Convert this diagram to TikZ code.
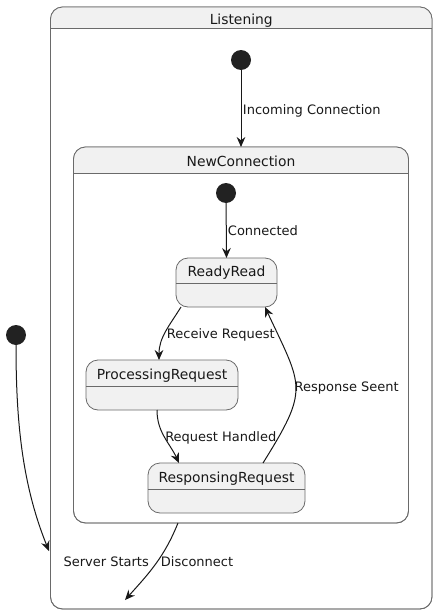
\documentclass[tikz,border=0pt]{standalone}
\usepackage{fontspec}
\setmainfont{DejaVu Sans}
\usetikzlibrary{arrows.meta}
\definecolor{statefill}{HTML}{F1F1F1}
\definecolor{stateline}{HTML}{6A6A6A}
\definecolor{ink}{HTML}{181818}
\definecolor{dot}{HTML}{222222}
\begin{document}
\begin{tikzpicture}[x=0.75pt,y=0.75pt,
  font=\fontsize{9.75}{11.7}\selectfont,
  statebox/.style={draw=stateline, fill=statefill, line width=0.6pt,
    rounded corners=9pt, inner sep=0pt, outer sep=0pt},
  compbox/.style={draw=stateline, line width=0.6pt,
    rounded corners=9pt, inner sep=0pt, outer sep=0pt},
  initdot/.style={circle, fill=dot, minimum size=15pt, inner sep=0pt, outer sep=0pt},
  divider/.style={draw=stateline, line width=0.6pt},
  title/.style={anchor=base, inner sep=0pt, text=ink, font=\fontsize{10.4}{12.5}\selectfont},
  lbl/.style={anchor=base west, inner sep=0pt, text=ink},
  arr/.style={draw=ink, line width=0.75pt,
    -{Stealth[length=7.5pt, width=6.5pt, inset=2.5pt]}}]
\useasboundingbox (0,0) rectangle (438,-614);

% Composite state: Listening
\node[compbox, minimum width=286.1pt, minimum height=451.5pt] (listen) at (241.25,-308) {};
\begin{scope}
  \clip[rounded corners=9pt] (listen.south west) rectangle (listen.north east);
  \fill[statefill] (listen.north west) rectangle (listen.east |- 0,-28);
\end{scope}
\draw[compbox] (listen.south west) rectangle (listen.north east);
\draw[divider] (listen.west |- 0,-28) -- (listen.east |- 0,-28);
\node[title] (tlisten) at (241.25,-24) {Listening};

% Composite state: NewConnection
\node[compbox, minimum width=251.25pt, minimum height=282pt] (nc) at (241,-335) {};
\begin{scope}
  \clip[rounded corners=9pt] (nc.south west) rectangle (nc.north east);
  \fill[statefill] (nc.north west) rectangle (nc.east |- 0,-173);
\end{scope}
\draw[compbox] (nc.south west) rectangle (nc.north east);
\draw[divider] (nc.west |- 0,-173) -- (nc.east |- 0,-173);
\node[title] (tnc) at (241,-166) {NewConnection};

% Simple states
\node[statebox, minimum width=75.75pt, minimum height=36.75pt] (rr) at (226.5,-282.5) {};
\draw[divider] (rr.west |- 0,-283) -- (rr.east |- 0,-283);
\node[title] (trr) at (226.5,-276) {ReadyRead};

\node[statebox, minimum width=114pt, minimum height=37.5pt] (pr) at (162,-385) {};
\draw[divider] (pr.west |- 0,-386) -- (pr.east |- 0,-386);
\node[title] (tpr) at (162,-379) {ProcessingRequest};

\node[statebox, minimum width=117.75pt, minimum height=37.5pt] (rs) at (226.5,-488) {};
\draw[divider] (rs.west |- 0,-489) -- (rs.east |- 0,-489);
\node[title] (trs) at (226.5,-482) {ResponsingRequest};

% Initial pseudo-states
\node[initdot] (i0) at (16,-335) {};
\node[initdot] (i1) at (241,-60) {};
\node[initdot] (i2) at (226,-193) {};

% Free arrow ends
\coordinate (endS) at (49,-551);
\coordinate (endD) at (125,-600);

% Transitions
\draw[arr] (i1) -- (nc.north);
\node[lbl] (lInc) at (242.7,-114) {Incoming Connection};

\draw[arr] (i2) -- (rr.north);
\node[lbl] (lCon) at (227.7,-235.7) {Connected};

\draw[arr] (181,-307) to[out=238, in=90] (159,-360);
\node[lbl] (lRec) at (166.7,-338) {Receive Request};

\draw[arr] (157,-410) to[out=270, in=115] (179,-463);
\node[lbl] (lHan) at (165,-441.7) {Request Handled};

\draw[arr] (263,-463) to[out=58, in=295, looseness=1.45] (265,-307);
\node[lbl] (lSeen) at (294.3,-391) {Response Seent};

\draw[arr] (i0) to[out=270, in=112, looseness=0.9] (endS);
\node[lbl] (lSrv) at (63.3,-566.7) {Server Starts};

\draw[arr] (178,-523) to[out=248, in=48] (endD);
\node[lbl] (lDis) at (160.7,-566.7) {Disconnect};
\end{tikzpicture}
\end{document}
